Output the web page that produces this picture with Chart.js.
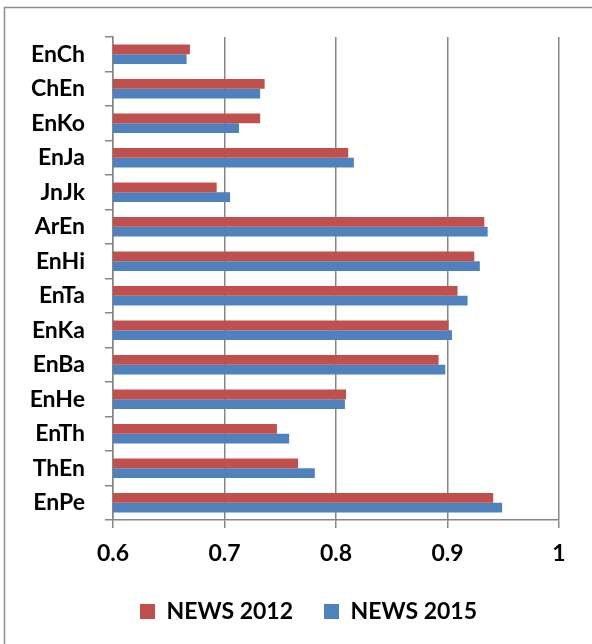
<!DOCTYPE html>
<html>
<head>
<meta charset="utf-8">
<script src="https://cdn.jsdelivr.net/npm/chart.js@4/dist/chart.umd.min.js"></script>
<style>
  html, body { margin: 0; padding: 0; background: #fff; }
  #wrap { width: 592px; height: 644px; position: relative; }
</style>
</head>
<body>
<div id="wrap"><canvas id="c" width="592" height="644"></canvas></div>
<script>
const categories = ['EnCh','ChEn','EnKo','EnJa','JnJk','ArEn','EnHi','EnTa','EnKa','EnBa','EnHe','EnTh','ThEn','EnPe'];
const news2012 = [0.669,0.736,0.732,0.811,0.693,0.933,0.924,0.909,0.901,0.892,0.809,0.747,0.766,0.941];
const news2015 = [0.666,0.732,0.713,0.816,0.705,0.936,0.929,0.918,0.904,0.898,0.808,0.758,0.781,0.949];
const xTicks = [0.6, 0.7, 0.8, 0.9, 1];
const seriesNames = ['NEWS 2012', 'NEWS 2015'];

const FONT = 'Lato';
const FSIZE = 23;
const AXIS = '#868686';

const frame = {
  id: 'frame',
  afterLayout(chart) {
    const lg = chart.legend;
    if (lg) {
      lg.left += 29; lg.right += 29;
      lg.top -= 11; lg.bottom -= 11;
    }
  },
  afterDraw(chart) {
    const ctx = chart.ctx;
    ctx.save();
    ctx.strokeStyle = '#8c8c8c';
    ctx.lineWidth = 1.5;
    ctx.beginPath();
    ctx.moveTo(4.5, 644);
    ctx.lineTo(4.5, 7.5);
    ctx.lineTo(592, 7.5);
    ctx.stroke();
    ctx.restore();
  }
};

new Chart(document.getElementById('c'), {
  type: 'bar',
  data: {
    labels: categories,
    datasets: [
      { label: seriesNames[0], data: news2012, backgroundColor: '#C0504D', borderWidth: 0 },
      { label: seriesNames[1], data: news2015, backgroundColor: '#4F81BD', borderWidth: 0 }
    ]
  },
  options: {
    indexAxis: 'y',
    responsive: false,
    animation: false,
    devicePixelRatio: 1,
    categoryPercentage: 0.57,
    barPercentage: 1.0,
    layout: { padding: { top: 37, right: 33, left: 0, bottom: 0 } },
    plugins: {
      legend: {
        position: 'bottom',
        labels: {
          boxWidth: 15, boxHeight: 15, padding: 31,
          color: '#000',
          font: { family: FONT, weight: 'bold', size: FSIZE }
        }
      },
      tooltip: { enabled: false }
    },
    scales: {
      x: {
        min: 0.6, max: 1,
        afterBuildTicks(scale) { scale.ticks = xTicks.map(v => ({ value: v })); },
        afterFit(scale) { scale.height = 60; },
        ticks: {
          color: '#000',
          padding: 12,
          font: { family: FONT, weight: 'bold', size: FSIZE },
          callback: v => String(v)
        },
        grid: { color: AXIS, lineWidth: 1.5, tickLength: 8, drawTicks: true },
        border: { color: AXIS, width: 1.5 }
      },
      y: {
        afterFit(scale) { scale.width = 113; },
        ticks: {
          color: '#000',
          padding: 20,
          font: { family: FONT, weight: 'bold', size: FSIZE }
        },
        grid: { offset: true, drawOnChartArea: false, color: AXIS, lineWidth: 1.5, tickLength: 8 },
        border: { color: AXIS, width: 1.5 }
      }
    }
  },
  plugins: [frame]
});
</script>
</body>
</html>
